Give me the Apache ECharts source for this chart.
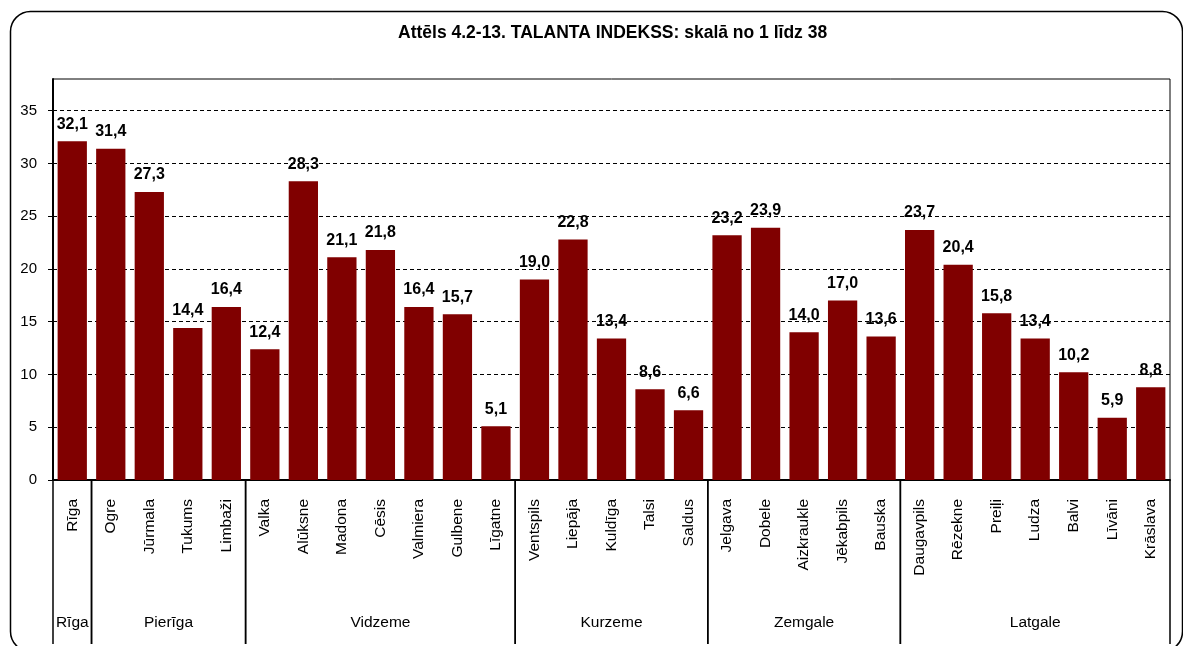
<!DOCTYPE html>
<html>
<head>
<meta charset="utf-8">
<script src="https://cdn.jsdelivr.net/npm/echarts@6/dist/echarts.min.js"></script>
<style>
html,body{margin:0;padding:0;background:#fff;}
#chart{width:1183px;height:646px;}
</style>
</head>
<body>
<div id="chart"></div>
<script>
const titleText = 'Attēls 4.2-13. TALANTA INDEKSS: skalā no 1 līdz 38';
const categories = ['Rīga','Ogre','Jūrmala','Tukums','Limbaži','Valka','Alūksne','Madona','Cēsis','Valmiera','Gulbene','Līgatne','Ventspils','Liepāja','Kuldīga','Talsi','Saldus','Jelgava','Dobele','Aizkraukle','Jēkabpils','Bauska','Daugavpils','Rēzekne','Preiļi','Ludza','Balvi','Līvāni','Krāslava'];
const values = [32.1,31.4,27.3,14.4,16.4,12.4,28.3,21.1,21.8,16.4,15.7,5.1,19.0,22.8,13.4,8.6,6.6,23.2,23.9,14.0,17.0,13.6,23.7,20.4,15.8,13.4,10.2,5.9,8.8];
const groupNames = ['Rīga','Pierīga','Vidzeme','Kurzeme','Zemgale','Latgale'];
const groupSizes = [1,4,7,5,5,7];
const yTicks = [0,5,10,15,20,25,30,35];

const FONT = "'Liberation Sans Narrow','Liberation Sans',Arial,sans-serif";

const groupData = [];
let acc = 0;
groupNames.forEach((g,i)=>{ groupData.push({name:g, value:[acc, acc+groupSizes[i]]}); acc += groupSizes[i]; });

const chart = echarts.init(document.getElementById('chart'), null, {renderer:'canvas'});
chart.setOption({
  backgroundColor:'#fff',
  animation:false,
  title:{text:titleText,left:398,top:24,padding:0,textStyle:{fontFamily:FONT,fontWeight:'bold',fontSize:17.5,color:'#000'}},
  graphic:[{type:'rect',left:8,top:9,shape:{width:1172,height:640,r:20},style:{fill:'none',stroke:'#000',lineWidth:1.5},silent:true}],
  grid:{left:53,right:13,top:79,bottom:166,show:true,borderColor:'#000',borderWidth:1,backgroundColor:'transparent'},
  xAxis:[{
    type:'category',data:categories,
    axisLine:{lineStyle:{color:'#000',width:2}},
    axisTick:{show:false},
    axisLabel:{rotate:90,margin:19,fontFamily:FONT,fontSize:15.5,color:'#000',interval:0}
  },{
    type:'value',min:0,max:categories.length,show:false
  }],
  yAxis:{
    type:'value',min:0,max:38,interval:5,
    axisLine:{show:true,lineStyle:{color:'#000',width:2}},
    axisTick:{show:true,length:5,lineStyle:{color:'#000'},customValues:yTicks},
    axisLabel:{fontFamily:FONT,fontSize:15,color:'#000',margin:16,customValues:yTicks,formatter:v=>yTicks.indexOf(v)>=0?String(v):''},
    splitLine:{show:true,lineStyle:{color:'#000',type:[4,3],width:1}}
  },
  series:[{
    type:'bar',data:values,barCategoryGap:'24%',
    itemStyle:{color:'#800000'},
    label:{show:true,position:'top',distance:9,fontFamily:FONT,fontWeight:'bold',fontSize:16,color:'#000',
      formatter:p=>p.value.toFixed(1).replace('.',',')}
  },{
    type:'custom',xAxisIndex:1,yAxisIndex:0,clip:false,silent:true,
    data:groupData,
    renderItem:function(params,api){
      const s=api.value(0), e=api.value(1);
      const p0=api.coord([s,0]), p1=api.coord([e,0]);
      const name=groupData[params.dataIndex].name;
      return {type:'group',children:[
        {type:'line',shape:{x1:p0[0],y1:p0[1],x2:p0[0],y2:p0[1]+164},style:{stroke:'#000',lineWidth:1.5}},
        {type:'line',shape:{x1:p1[0],y1:p1[1],x2:p1[0],y2:p1[1]+164},style:{stroke:'#000',lineWidth:1.5}},
        {type:'text',style:{text:name,x:(p0[0]+p1[0])/2,y:p0[1]+143,align:'center',verticalAlign:'middle',font:'15.5px '+FONT,fill:'#000'}}
      ]};
    }
  }]
});
</script>
</body>
</html>
